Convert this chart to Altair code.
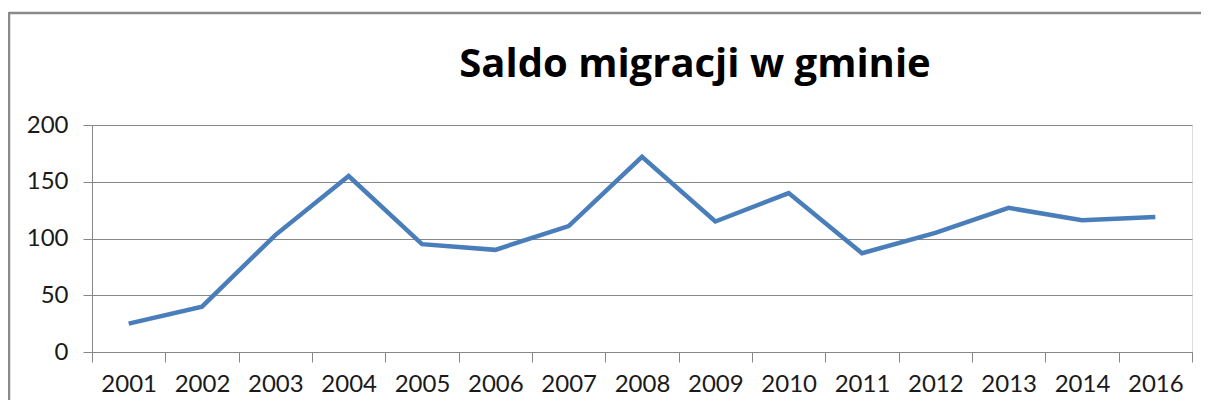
import altair as alt
import pandas as pd

years = ["2001", "2002", "2003", "2004", "2005", "2006", "2007", "2008",
         "2009", "2010", "2011", "2012", "2013", "2014", "2016"]
values = [25, 40, 103, 155, 95, 90, 111, 172, 115, 140, 87, 105, 127, 116, 119]
y_ticks = [0, 50, 100, 150, 200]
title_text = "Saldo migracji w gminie"

df = pd.DataFrame({"year": years, "value": values})

GRID = "#878787"
FONT = "Lato"
W, H = 1100, 227
PAD = {"left": 84, "top": 117, "right": 9, "bottom": 48}

x_enc = alt.X(
    "year:O",
    sort=years,
    bandPosition=0.5,
    scale=alt.Scale(type="band", paddingInner=0, paddingOuter=0),
    axis=alt.Axis(
        title=None, labelAngle=0, tickBand="extent", tickSize=10,
        tickColor=GRID, domainColor=GRID, labelFont=FONT, labelFontSize=24,
        labelColor="#1a1a1a", labelPadding=10, grid=False,
    ),
)
y_enc = alt.Y(
    "value:Q",
    scale=alt.Scale(domain=[0, 200]),
    axis=alt.Axis(
        title=None, values=y_ticks, grid=True, gridColor=GRID, tickColor=GRID,
        tickSize=9, domainColor=GRID, labelFont=FONT, labelFontSize=24,
        labelColor="#1a1a1a", labelPadding=15,
    ),
)

line = alt.Chart(df).mark_line(color="#4A7EBB", strokeWidth=4.5, strokeJoin="miter").encode(
    x=x_enc, y=y_enc
)

one = pd.DataFrame({"a": [0]})

top_border = alt.Chart(one).mark_rule(color="#8a8a8a", strokeWidth=2.5).encode(
    x=alt.value(-83), x2=alt.value(W + PAD["right"]), y=alt.value(-112)
)
left_border = alt.Chart(one).mark_rule(color="#8a8a8a", strokeWidth=2.5).encode(
    x=alt.value(-83), y=alt.value(-113), y2=alt.value(H + PAD["bottom"])
)

title = alt.Chart(one).mark_text(
    font="Open Sans", fontSize=40, fontWeight="bold", color="#000000",
    align="center", baseline="alphabetic",
).encode(
    x=alt.value(603), y=alt.value(-48), text=alt.value(title_text)
)

chart = alt.layer(top_border, left_border, title, line).properties(
    width=W,
    height=H,
    autosize=alt.AutoSizeParams(type="none"),
    padding=PAD,
).configure_view(stroke=None).configure(background="white")

chart.save("out.html", embed_options={"renderer": "svg", "actions": False})
